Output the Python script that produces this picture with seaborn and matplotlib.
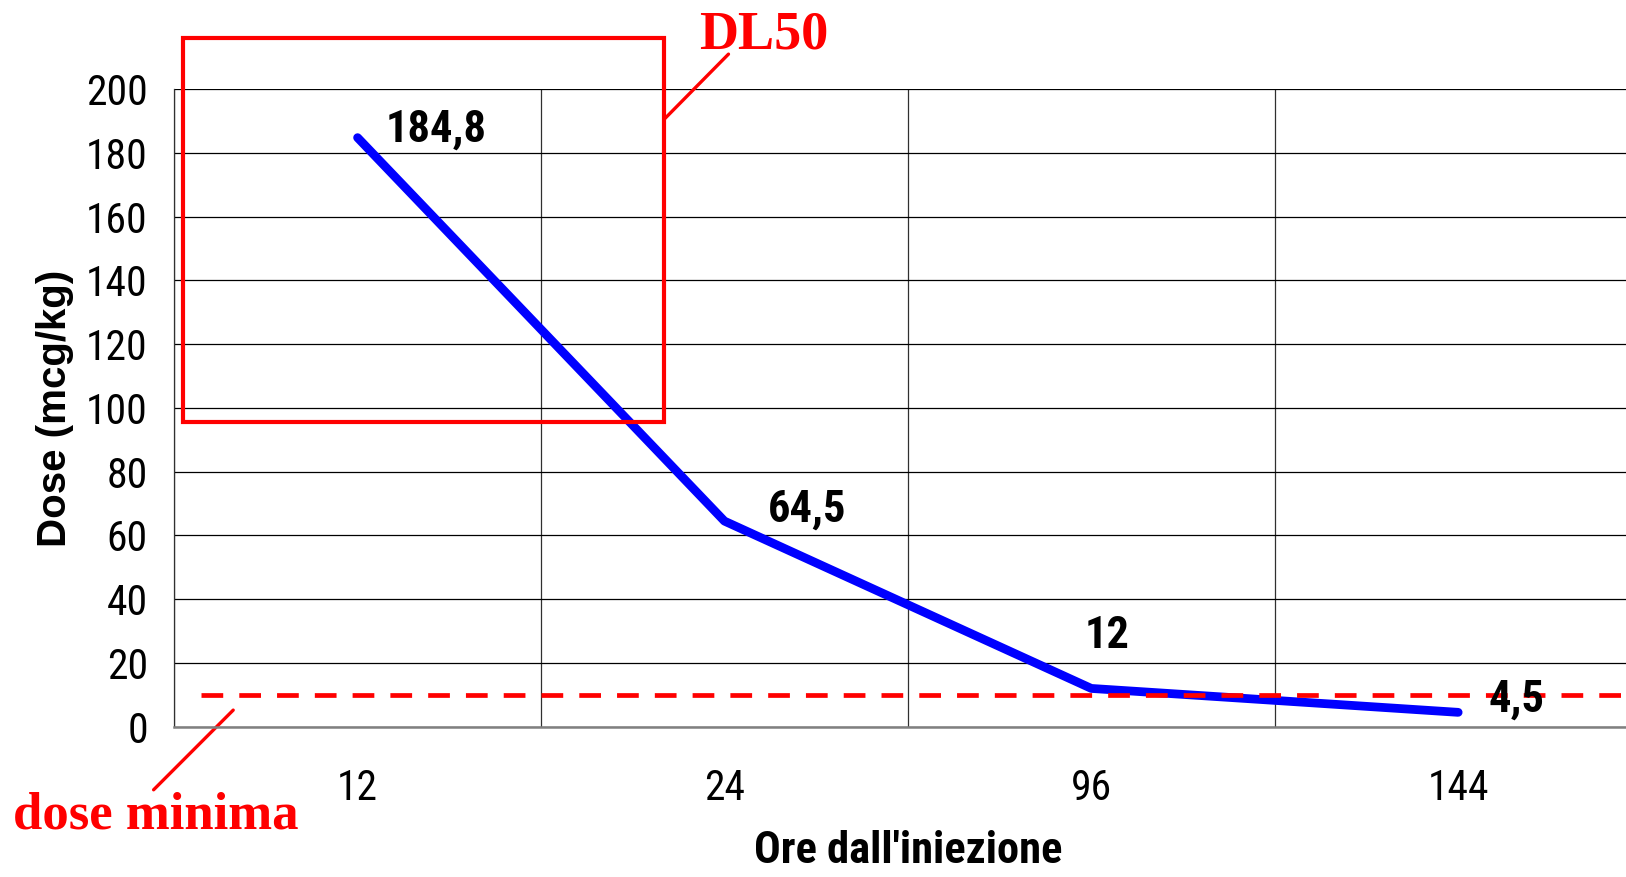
import numpy as np
import pandas as pd
import matplotlib
matplotlib.use("Agg")
import matplotlib.pyplot as plt
import matplotlib.patches as mpatches
import seaborn as sns

# ---------------------------------------------------------------------------
# Data
# ---------------------------------------------------------------------------
hours = ["12", "24", "96", "144"]
dose = [184.8, 64.5, 12, 4.5]
dose_min = 10          # dose minima reference line
dl50_low = 95.6        # lower edge of the DL50 box

df = pd.DataFrame({"ore": hours, "dose": dose})

# ---------------------------------------------------------------------------
# Style
# ---------------------------------------------------------------------------
sns.set_style("white")
NARROW = ["Roboto Condensed", "Liberation Sans Narrow", "Liberation Sans", "DejaVu Sans"]
plt.rcParams["font.family"] = NARROW
plt.rcParams["text.color"] = "black"
plt.rcParams["axes.labelcolor"] = "black"
plt.rcParams["xtick.color"] = "black"
plt.rcParams["ytick.color"] = "black"
RED = "#FF0000"
BLUE = "#0000FF"

fig = plt.figure(figsize=(16.26, 8.77), dpi=100)
ax = fig.add_axes([0.1071, 0.1714, 0.9025, 0.7269])

sns.lineplot(data=df, x="ore", y="dose", sort=False, color=BLUE,
             linewidth=6.3, solid_capstyle="round", ax=ax)

ax.axhline(dose_min, xmin=0.018, xmax=1.0, color=RED, linewidth=3.4,
           dashes=(4.6, 3.4), zorder=3)

# data labels
offsets = [(20, 6), (31, 8), (-4.5, 38), (22, 9)]
for i, (v, off) in enumerate(zip(dose, offsets)):
    ax.annotate(f"{v:g}".replace(".", ","), (i, v), xytext=off,
                textcoords="offset points", ha="left", va="center",
                fontsize=32, fontweight="bold", family=NARROW, zorder=5)

# ---------------------------------------------------------------------------
# Axes
# ---------------------------------------------------------------------------
ax.set_xlim(-0.5, len(hours) - 0.5)
ax.set_ylim(0, 200)
ax.set_yticks(np.arange(0, 201, 20))
ax.set_xticks(np.arange(-0.5, len(hours), 1.0))
ax.set_xticklabels([])
ax.set_xticks(np.arange(len(hours)), minor=True)
ax.set_xticklabels(hours, minor=True)

ax.grid(axis="y", color="black", linewidth=0.9)
ax.grid(axis="x", which="major", color="#303030", linewidth=0.9)
ax.tick_params(axis="x", which="major", length=12, width=0.9, color="#303030")
ax.tick_params(axis="x", which="minor", length=0, pad=30, labelsize=30)
ax.tick_params(axis="y", length=7, width=0.9, color="black", pad=12, labelsize=30)

for s in ["top", "right"]:
    ax.spines[s].set_visible(False)
ax.spines["left"].set_color("#303030")
ax.spines["left"].set_linewidth(0.9)
ax.spines["bottom"].set_color("#808080")
ax.spines["bottom"].set_linewidth(1.8)

ax.set_xlabel("Ore dall'iniezione", fontsize=32, fontweight="bold", labelpad=15)
ax.set_ylabel("Dose (mcg/kg)", fontsize=29, fontweight="bold",
              family=["Liberation Sans", "DejaVu Sans"], labelpad=9)

# ---------------------------------------------------------------------------
# Annotations: DL50 box and dose minima
# ---------------------------------------------------------------------------
box = mpatches.Rectangle((-0.475, dl50_low), 1.311, 216 - dl50_low, fill=False,
                         edgecolor=RED, linewidth=3, clip_on=False, zorder=4)
ax.add_patch(box)
ax.plot([0.836, 1.011], [190.6, 211], color=RED, linewidth=2.4, clip_on=False)
ax.text(0.932, 217, "DL50", color=RED, fontsize=39, fontweight="bold",
        family=["Liberation Serif", "DejaVu Serif"], ha="left", va="center",
        clip_on=False)

ax.plot([-0.556, -0.339], [-19.8, 5.2], color=RED, linewidth=2.4, clip_on=False)
ax.text(-0.94, -28, "dose minima", color=RED, fontsize=38, fontweight="bold",
        family=["Liberation Serif", "DejaVu Serif"], ha="left", va="center",
        clip_on=False)

fig.savefig("out.png", dpi=100)
